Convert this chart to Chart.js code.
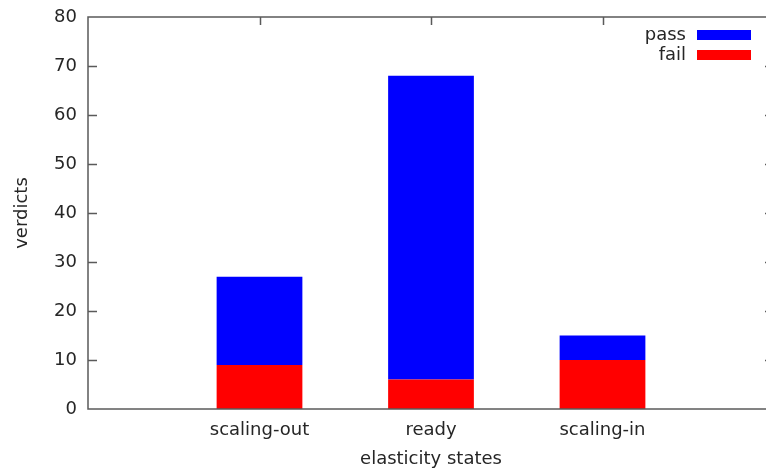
<!DOCTYPE html>
<html lang="en">
<head>
    <meta charset="UTF-8">
    <title>Verdicts per elasticity state</title>
    <script src="https://cdn.jsdelivr.net/npm/chart.js"></script>
    <style>
        html, body {
            margin: 0;
            padding: 0;
            background: #ffffff;
            overflow: hidden;
        }
        /* a little wider than the window: the right border falls just outside, like the original */
        .chart-box {
            width: 780px;
            height: 469px;
        }
    </style>
</head>
<body>
    <div class="chart-box">
        <canvas id="verdictsChart"></canvas>
    </div>

    <script>
        // Data
        const categories = ['scaling-out', 'ready', 'scaling-in'];
        const failValues = [9, 6, 10];
        const passValues = [18, 62, 5];
        const yMin = 0, yMax = 80, yStep = 10;

        const axisColor = '#5a5a5a';
        const textColor = '#262626';
        const fontFamily = '"DejaVu Sans", sans-serif';

        // gnuplot-like frame: box, inward ticks on both sides, mirrored x ticks on top
        const framePlugin = {
            id: 'frame',
            afterDatasetsDraw(chart) {
                const {ctx, chartArea: a, scales: {x, y}} = chart;
                ctx.save();
                ctx.strokeStyle = axisColor;
                ctx.lineWidth = 1.5;
                ctx.beginPath();
                y.ticks.forEach(t => {
                    if (t.value === yMin || t.value === yMax) return;
                    const py = Math.round(y.getPixelForValue(t.value)) + 0.5;
                    ctx.moveTo(a.left, py); ctx.lineTo(a.left + 9, py);
                    ctx.moveTo(a.right, py); ctx.lineTo(a.right - 9, py);
                });
                categories.forEach((c, i) => {
                    const px = Math.round(x.getPixelForValue(i)) + 0.5;
                    ctx.moveTo(px, a.top); ctx.lineTo(px, a.top + 8);
                });
                ctx.stroke();
                ctx.strokeRect(a.left, a.top, a.right - a.left, a.bottom - a.top);
                ctx.restore();
            }
        };

        // legend in the top-right corner: text on the left, long sample box on the right
        const keyPlugin = {
            id: 'key',
            afterDraw(chart) {
                const {ctx, chartArea: a} = chart;
                const sets = chart.data.datasets.slice().reverse();
                ctx.save();
                ctx.font = '18px ' + fontFamily;
                ctx.textAlign = 'right';
                ctx.textBaseline = 'middle';
                sets.forEach((ds, i) => {
                    const cy = a.top + 18 + i * 20;
                    const boxRight = a.right - 23;
                    ctx.fillStyle = ds.backgroundColor;
                    ctx.fillRect(boxRight - 54, cy - 5, 54, 10);
                    ctx.fillStyle = textColor;
                    ctx.fillText(ds.label, boxRight - 65, cy);
                });
                ctx.restore();
            }
        };

        Chart.defaults.font.family = fontFamily;
        Chart.defaults.font.size = 18;
        Chart.defaults.color = textColor;

        new Chart(document.getElementById('verdictsChart'), {
            type: 'bar',
            data: {
                datasets: [{
                    label: 'fail',
                    data: failValues.map((v, i) => ({x: i, y: v})),
                    backgroundColor: '#ff0000'
                }, {
                    label: 'pass',
                    data: passValues.map((v, i) => ({x: i, y: v})),
                    backgroundColor: '#0000ff'
                }]
            },
            options: {
                responsive: true,
                maintainAspectRatio: false,
                animation: false,
                layout: {padding: {top: 17, right: 6, left: 0, bottom: 0}},
                barPercentage: 0.5,
                categoryPercentage: 1,
                plugins: {
                    legend: {display: false},
                    tooltip: {enabled: false}
                },
                scales: {
                    x: {
                        type: 'linear',
                        stacked: true,
                        offset: false,
                        min: -1,
                        max: categories.length,
                        grid: {display: false, drawTicks: false},
                        border: {display: false},
                        ticks: {
                            stepSize: 1,
                            padding: 11,
                            maxRotation: 0,
                            autoSkip: false,
                            callback: v => categories[v] || ''
                        },
                        title: {
                            display: true,
                            text: 'elasticity states',
                            font: {lineHeight: 1.1},
                            padding: {top: 0, bottom: 0}
                        },
                        afterFit: s => { s.height = 60; s.paddingLeft = 0; s.paddingRight = 0; }
                    },
                    y: {
                        stacked: true,
                        min: yMin,
                        max: yMax,
                        grid: {display: false, drawTicks: false},
                        border: {display: false},
                        ticks: {stepSize: yStep, padding: 11},
                        title: {
                            display: true,
                            text: 'verdicts',
                            padding: {top: 12, bottom: 0}
                        },
                        afterFit: s => { s.width = 88; s.paddingTop = 0; s.paddingBottom = 0; }
                    }
                }
            },
            plugins: [framePlugin, keyPlugin]
        });
    </script>
</body>
</html>
